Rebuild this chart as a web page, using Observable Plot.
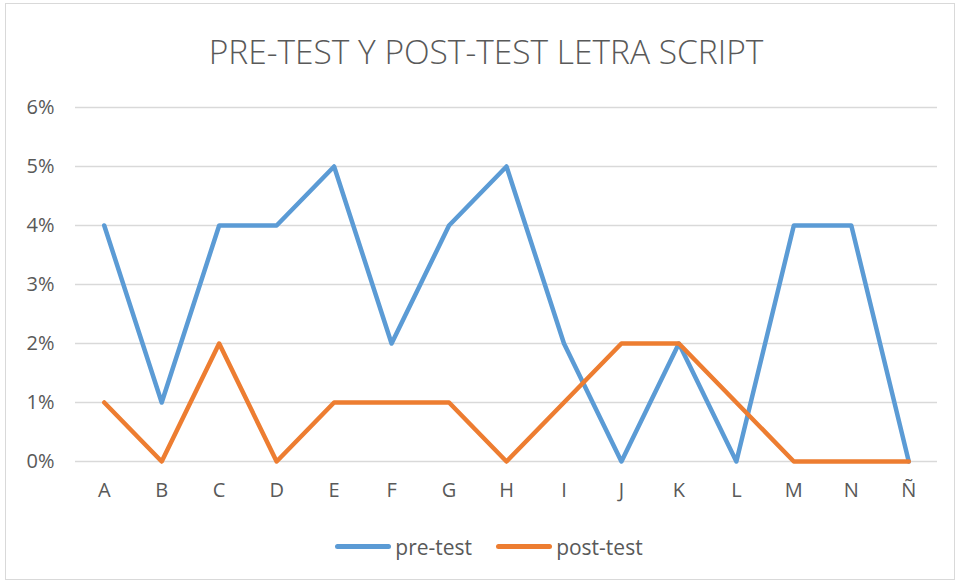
<!DOCTYPE html>
<html>
<head>
<meta charset="utf-8">
<script src="https://cdn.jsdelivr.net/npm/d3@7"></script>
<script src="https://cdn.jsdelivr.net/npm/@observablehq/plot@0.6"></script>
<style>
  html, body { margin: 0; padding: 0; background: #fff; }
  #wrap { position: relative; width: 958px; height: 582px; font-family: "Open Sans", "Liberation Sans", sans-serif; color: #595959; }
  #frame { position: absolute; left: 5px; top: 3px; width: 950px; height: 577px; border: 1px solid #D9D9D9; box-sizing: border-box; }
  #title { position: absolute; left: 7px; width: 958px; top: 28px; line-height: 46px; text-align: center; font-size: 33.5px; font-weight: 300; color: #595959; }
  #chart { position: absolute; left: 0; top: 0; }
  #legend { position: absolute; left: 10px; width: 958px; top: 527px; line-height: 28px; text-align: center; font-size: 21px; color: #595959; }
  .item { display: inline-flex; align-items: center; margin: 0 12px; }
  .sw { display: inline-block; width: 56px; height: 5px; border-radius: 3px; margin-right: 4px; }
</style>
</head>
<body>
<div id="wrap">
  <div id="frame"></div>
  <div id="title">PRE-TEST Y POST-TEST LETRA SCRIPT</div>
  <div id="chart"></div>
  <div id="legend"></div>
</div>
<script>
const categories = ["A","B","C","D","E","F","G","H","I","J","K","L","M","N","Ñ"];
const preTest  = [4,1,4,4,5,2,4,5,2,0,2,0,4,4,0];
const postTest = [1,0,2,0,1,1,1,0,1,2,2,1,0,0,0];
const seriesNames = ["pre-test","post-test"];
const seriesColors = ["#5B9BD5","#ED7D31"];
const yTicks = [0,1,2,3,4,5,6];

const data = [];
categories.forEach((c,i) => {
  data.push({cat: c, series: seriesNames[0], value: preTest[i]/100});
  data.push({cat: c, series: seriesNames[1], value: postTest[i]/100});
});

const chart = Plot.plot({
  width: 958,
  height: 520,
  marginLeft: 75,
  marginRight: 21,
  marginTop: 107,
  marginBottom: 59,
  style: {fontFamily: '"Open Sans", "Liberation Sans", sans-serif', fontSize: "20px", color: "#595959", background: "transparent"},
  x: {type: "point", domain: categories, padding: 0.5, round: false, label: null, tickSize: 0, tickPadding: 21},
  y: {domain: [0, 0.06], ticks: yTicks.map(d => d/100), tickFormat: d => Math.round(d*100) + "%", label: null, tickSize: 0, tickPadding: 21},
  color: {domain: seriesNames, range: seriesColors},
  marks: [
    Plot.gridY(yTicks.map(d => d/100), {stroke: "#D9D9D9", strokeOpacity: 1, strokeWidth: 1.3}),
    Plot.line(data, {x: "cat", y: "value", z: "series", stroke: "series", strokeWidth: 4.5, strokeLinejoin: "round", strokeLinecap: "round"})
  ]
});
document.getElementById("chart").appendChild(chart);

const legend = document.getElementById("legend");
seriesNames.forEach((n,i) => {
  const it = document.createElement("span");
  it.className = "item";
  const sw = document.createElement("span");
  sw.className = "sw";
  sw.style.background = seriesColors[i];
  it.appendChild(sw);
  it.appendChild(document.createTextNode(n));
  legend.appendChild(it);
});
</script>
</body>
</html>
